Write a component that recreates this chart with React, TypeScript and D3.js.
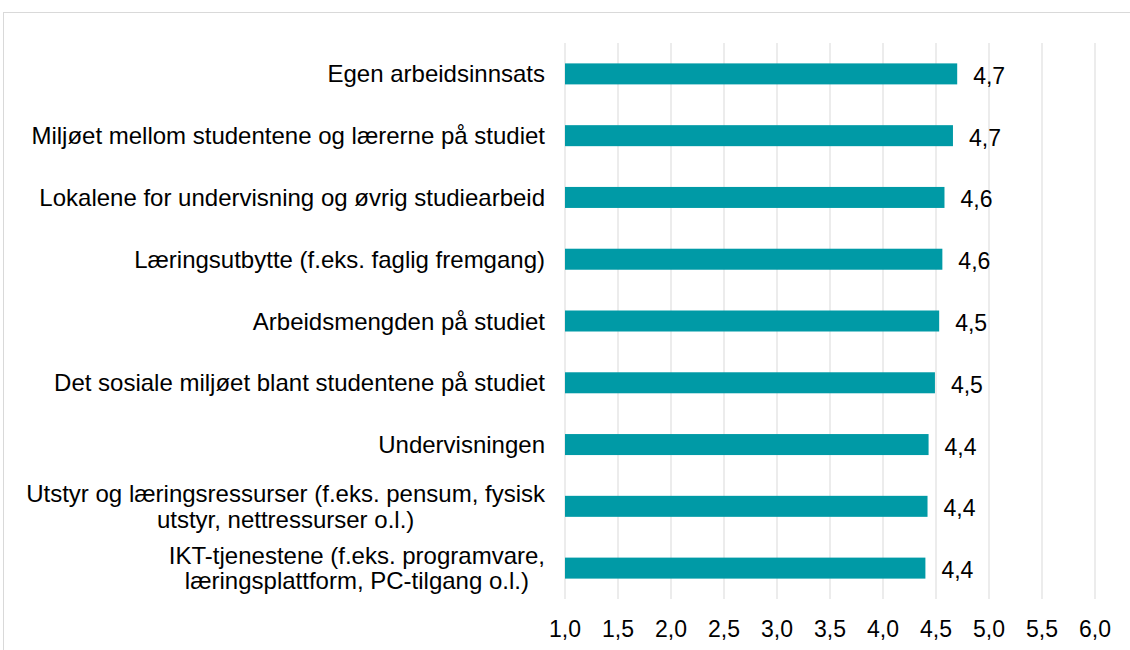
import React from "react";
import * as d3 from "d3";

const categories: string[][] = [
  ["Egen arbeidsinnsats"],
  ["Miljøet mellom studentene og lærerne på studiet"],
  ["Lokalene for undervisning og øvrig studiearbeid"],
  ["Læringsutbytte (f.eks. faglig fremgang)"],
  ["Arbeidsmengden på studiet"],
  ["Det sosiale miljøet blant studentene på studiet"],
  ["Undervisningen"],
  ["Utstyr og læringsressurser (f.eks. pensum, fysisk", "utstyr, nettressurser o.l.)"],
  ["IKT-tjenestene (f.eks. programvare,", "læringsplattform, PC-tilgang o.l.)"],
];
const values: number[] = [4.70, 4.66, 4.58, 4.56, 4.53, 4.49, 4.43, 4.42, 4.40];
const valueLabels: string[] = ["4,7", "4,7", "4,6", "4,6", "4,5", "4,5", "4,4", "4,4", "4,4"];
const ticks: number[] = [1.0, 1.5, 2.0, 2.5, 3.0, 3.5, 4.0, 4.5, 5.0, 5.5, 6.0];

const FONT = "Liberation Sans, Arial, sans-serif";
const FS = 24;
const FS2 = 23;

function measure(text: string): number {
  const c = document.createElement("canvas").getContext("2d");
  if (!c) return text.length * FS * 0.5;
  c.font = `${FS}px "Liberation Sans", Arial, sans-serif`;
  return c.measureText(text).width;
}

export default function App() {
  const x = d3.scaleLinear().domain([1, 6]).range([565, 1095]);
  const y = d3
    .scaleBand<number>()
    .domain(d3.range(categories.length))
    .range([43, 599])
    .paddingInner(0.66)
    .paddingOuter(0.33);
  const bw = y.bandwidth();
  const labelRight = 545;
  const lineH = 25.5;

  return (
    <svg width={1130} height={650} style={{ position: "absolute", left: 0, top: 0 }}>
      <rect x={0} y={0} width={1130} height={650} fill="#fff" />
      <rect x={3.5} y={12.5} width={1140} height={660} fill="none" stroke="#d9d9d9" strokeWidth={1} />
      {ticks.map((t) => (
        <line key={"g" + t} x1={x(t)} x2={x(t)} y1={43} y2={599} stroke="#d9d9d9" strokeWidth={1} />
      ))}
      {values.map((v, i) => (
        <rect key={"b" + i} x={x(1)} y={y(i)!} width={x(v) - x(1)} height={bw} fill="#009aa6" />
      ))}
      {values.map((v, i) => (
        <text
          key={"v" + i}
          x={x(v) + 16}
          y={y(i)! + bw / 2 + 10}
          fontFamily={FONT}
          fontSize={FS2}
          fill="#000"
        >
          {valueLabels[i]}
        </text>
      ))}
      {categories.map((lines, i) => {
        const cy = y(i)! + bw / 2;
        const maxW = Math.max(...lines.map(measure));
        const cx = labelRight - maxW / 2;
        const y0 = cy - ((lines.length - 1) * lineH) / 2;
        return (
          <text key={"c" + i} fontFamily={FONT} fontSize={FS} fill="#000" textAnchor="middle">
            {lines.map((l, j) => (
              <tspan key={j} x={cx} y={y0 + j * lineH + 8.5}>
                {l}
              </tspan>
            ))}
          </text>
        );
      })}
      {ticks.map((t) => (
        <text
          key={"t" + t}
          x={x(t)}
          y={637}
          textAnchor="middle"
          fontFamily={FONT}
          fontSize={FS2}
          fill="#000"
        >
          {t.toFixed(1).replace(".", ",")}
        </text>
      ))}
    </svg>
  );
}
